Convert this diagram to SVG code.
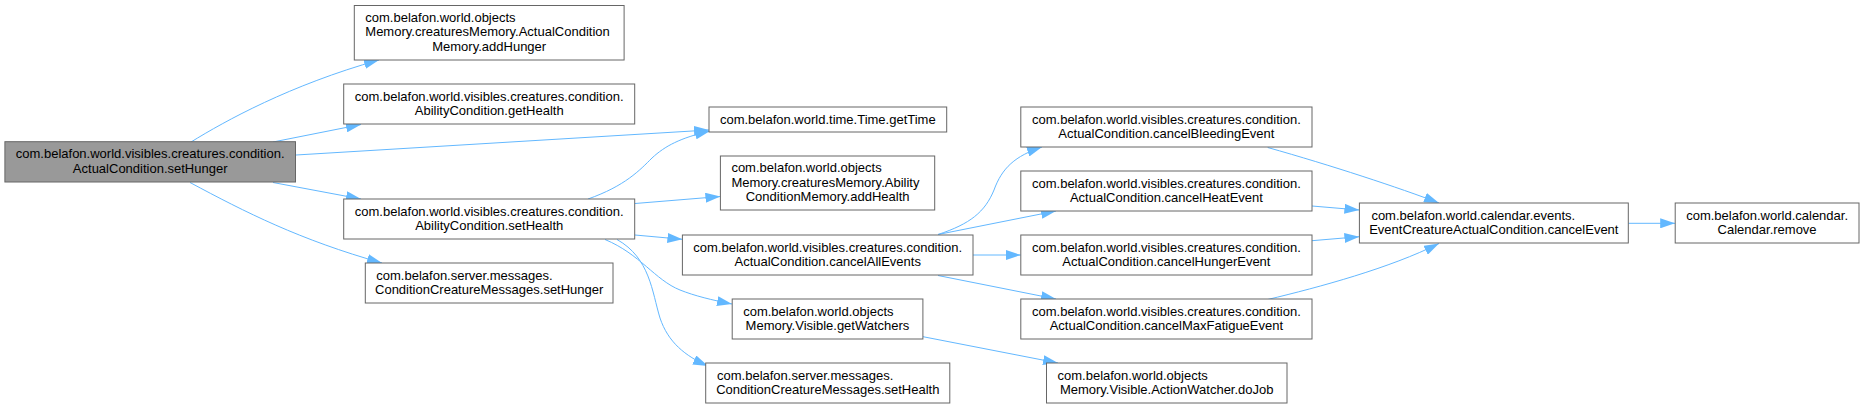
<svg xmlns="http://www.w3.org/2000/svg" width="1864" height="409" viewBox="0 0 1864 409">
<style>
  .n rect { fill: #ffffff; stroke: #666666; stroke-width: 1; }
  .n.root rect { fill: #999999; }
  text { font-family: "Liberation Sans", Arial, sans-serif; font-size: 13px; fill: #000000; }
  .m { text-anchor: middle; }
  .s { text-anchor: start; }
  .e path { fill: none; stroke: #63b8ff; stroke-width: 1; marker-end: url(#ah); }
</style>
<defs>
  <marker id="ah" viewBox="0 0 15 10" refX="15" refY="5" markerWidth="15" markerHeight="10" markerUnits="userSpaceOnUse" orient="auto">
    <path d="M0,0 L15,5 L0,10 z" fill="#63b8ff" stroke="none"/>
  </marker>
</defs>
<rect x="0" y="0" width="1864" height="409" fill="#ffffff"/>
<g id="edges" class="e">
  <path d="M191,142 C225,121 290,85 379,60"/>
  <path d="M273,142 L361,124.5"/>
  <path d="M296,155 L709,130"/>
  <path d="M273,182.5 L361,199"/>
  <path d="M190,182.5 C245,212 300,240 382,263"/>
  <path d="M588,199 C625,186 640,170 652,158 C665,146 680,138 710,131"/>
  <path d="M635,203.5 L720.4,196.5"/>
  <path d="M635,235 L682.4,239.3"/>
  <path d="M605,239.5 C640,254 655,280 680,290 C695,296 712,300 732,304"/>
  <path d="M617,239.5 C650,258 652,292 660,318 C668,342 685,356 708,366"/>
  <path d="M938,234.5 C970,224 985,212 994,190 C1002,168 1015,156 1042,147"/>
  <path d="M938,234.5 L1056,211"/>
  <path d="M973,255 L1020.8,255"/>
  <path d="M938,275.5 L1056,299"/>
  <path d="M1267.7,147.5 C1330,165 1400,188 1439,203"/>
  <path d="M1312,206 L1359.4,210"/>
  <path d="M1312,240.7 L1359.4,236.7"/>
  <path d="M1267.7,299.5 C1320,287 1390,268 1439,243.5"/>
  <path d="M1628.3,223.3 L1675.2,223.3"/>
  <path d="M923,336.7 L1058,363"/>
</g>
<g id="node1" class="n root">
  <rect x="4.9" y="141.7" width="290.6" height="40.3"/>
  <text class="m" x="150.2" y="158.4">com.belafon.world.visibles.creatures.condition.</text>
  <text class="m" x="150.2" y="172.8">ActualCondition.setHunger</text>
</g>
<g id="node2" class="n">
  <rect x="354.3" y="5.5" width="269.8" height="54.5"/>
  <text class="s" x="365.3" y="21.5">com.belafon.world.objects</text>
  <text class="s" x="365.3" y="36">Memory.creaturesMemory.ActualCondition</text>
  <text class="m" x="489.2" y="50.5">Memory.addHunger</text>
</g>
<g id="node3" class="n">
  <rect x="343.7" y="84" width="291" height="40"/>
  <text class="m" x="489.2" y="100.7">com.belafon.world.visibles.creatures.condition.</text>
  <text class="m" x="489.2" y="115">AbilityCondition.getHealth</text>
</g>
<g id="node4" class="n">
  <rect x="343.7" y="199" width="291" height="40"/>
  <text class="m" x="489.2" y="215.7">com.belafon.world.visibles.creatures.condition.</text>
  <text class="m" x="489.2" y="230">AbilityCondition.setHealth</text>
</g>
<g id="node5" class="n">
  <rect x="365.3" y="263" width="247.7" height="40"/>
  <text class="s" x="376.3" y="279.7">com.belafon.server.messages.</text>
  <text class="m" x="489.2" y="294">ConditionCreatureMessages.setHunger</text>
</g>
<g id="node6" class="n">
  <rect x="709" y="107" width="237.7" height="25"/>
  <text class="m" x="827.8" y="123.5">com.belafon.world.time.Time.getTime</text>
</g>
<g id="node7" class="n">
  <rect x="720.4" y="156" width="214.3" height="54"/>
  <text class="s" x="731.4" y="172">com.belafon.world.objects</text>
  <text class="s" x="731.4" y="186.5">Memory.creaturesMemory.Ability</text>
  <text class="m" x="827.6" y="201">ConditionMemory.addHealth</text>
</g>
<g id="node8" class="n">
  <rect x="682.4" y="235" width="290.6" height="40"/>
  <text class="m" x="827.7" y="251.7">com.belafon.world.visibles.creatures.condition.</text>
  <text class="m" x="827.7" y="266">ActualCondition.cancelAllEvents</text>
</g>
<g id="node9" class="n">
  <rect x="732.2" y="299" width="190.7" height="40"/>
  <text class="s" x="743.2" y="315.7">com.belafon.world.objects</text>
  <text class="m" x="827.5" y="330">Memory.Visible.getWatchers</text>
</g>
<g id="node10" class="n">
  <rect x="705.7" y="363" width="244.1" height="40"/>
  <text class="s" x="717" y="379.7">com.belafon.server.messages.</text>
  <text class="m" x="827.8" y="394">ConditionCreatureMessages.setHealth</text>
</g>
<g id="node11" class="n">
  <rect x="1020.8" y="107" width="291.2" height="40"/>
  <text class="m" x="1166.4" y="123.7">com.belafon.world.visibles.creatures.condition.</text>
  <text class="m" x="1166.4" y="138">ActualCondition.cancelBleedingEvent</text>
</g>
<g id="node12" class="n">
  <rect x="1020.8" y="171" width="291.2" height="40"/>
  <text class="m" x="1166.4" y="187.7">com.belafon.world.visibles.creatures.condition.</text>
  <text class="m" x="1166.4" y="202">ActualCondition.cancelHeatEvent</text>
</g>
<g id="node13" class="n">
  <rect x="1020.8" y="235" width="291.2" height="40"/>
  <text class="m" x="1166.4" y="251.7">com.belafon.world.visibles.creatures.condition.</text>
  <text class="m" x="1166.4" y="266">ActualCondition.cancelHungerEvent</text>
</g>
<g id="node14" class="n">
  <rect x="1020.8" y="299" width="291.2" height="40"/>
  <text class="m" x="1166.4" y="315.7">com.belafon.world.visibles.creatures.condition.</text>
  <text class="m" x="1166.4" y="330">ActualCondition.cancelMaxFatigueEvent</text>
</g>
<g id="node15" class="n">
  <rect x="1046.5" y="363" width="240.5" height="40"/>
  <text class="s" x="1057.5" y="379.7">com.belafon.world.objects</text>
  <text class="m" x="1166.7" y="394">Memory.Visible.ActionWatcher.doJob</text>
</g>
<g id="node16" class="n">
  <rect x="1359.4" y="203" width="268.9" height="40"/>
  <text class="s" x="1371.4" y="219.7">com.belafon.world.calendar.events.</text>
  <text class="m" x="1493.8" y="234">EventCreatureActualCondition.cancelEvent</text>
</g>
<g id="node17" class="n">
  <rect x="1675.2" y="203" width="183.8" height="40"/>
  <text class="m" x="1767.1" y="219.7">com.belafon.world.calendar.</text>
  <text class="m" x="1767.1" y="234">Calendar.remove</text>
</g>
</svg>
